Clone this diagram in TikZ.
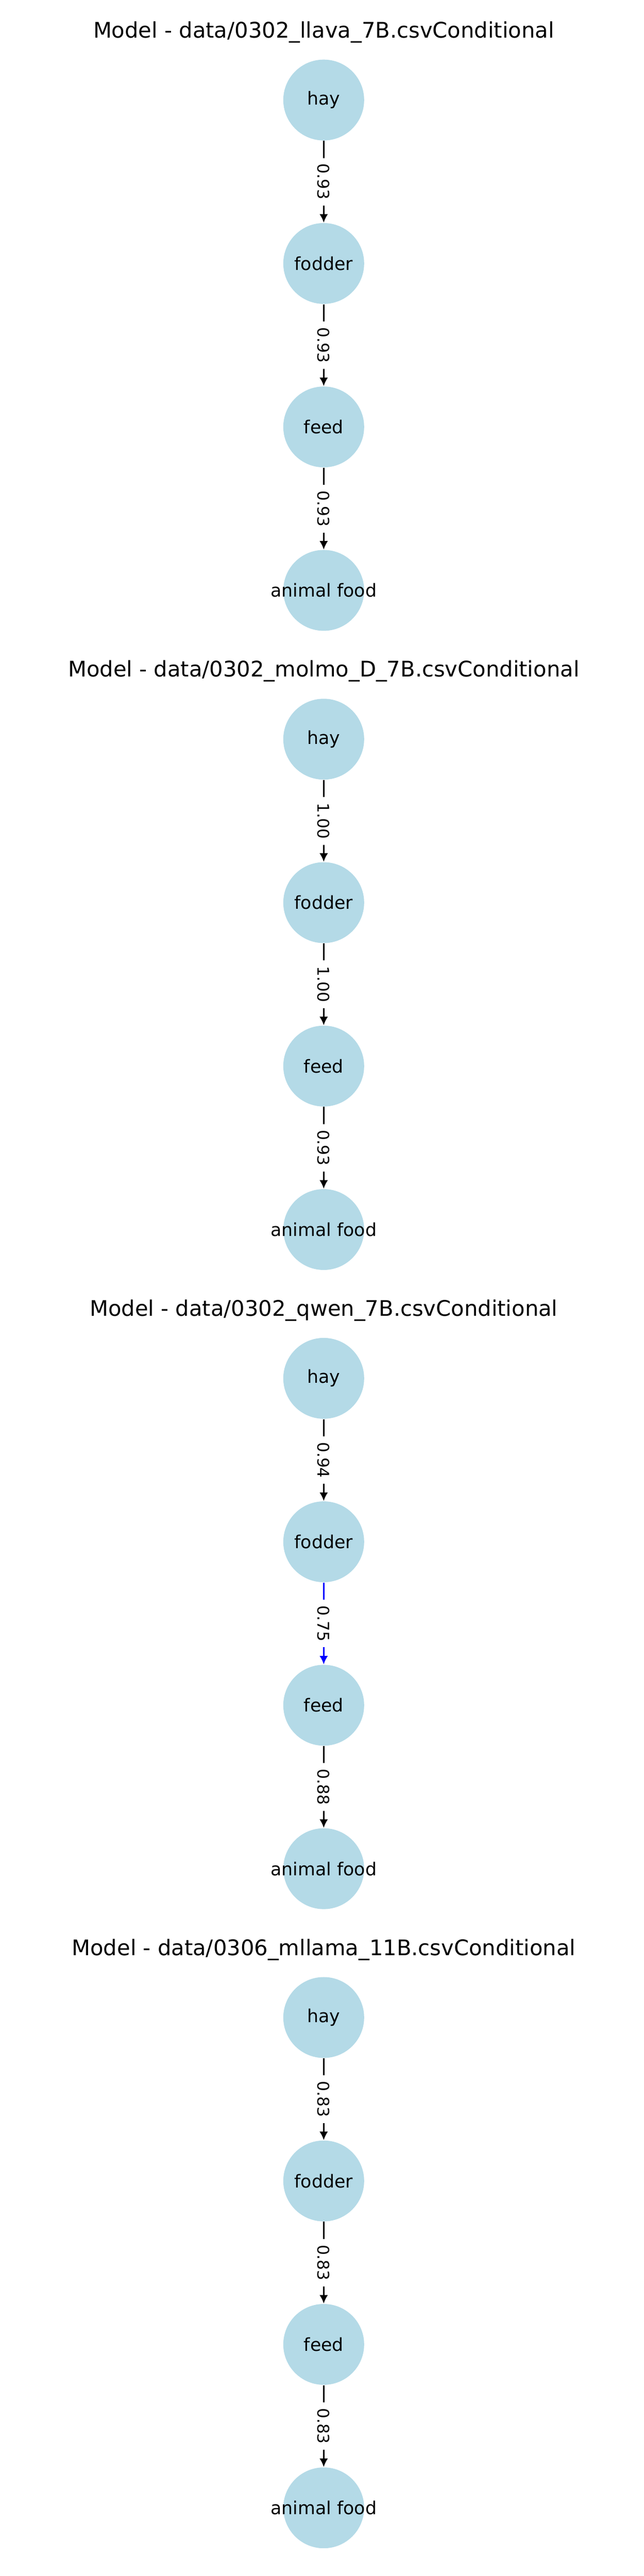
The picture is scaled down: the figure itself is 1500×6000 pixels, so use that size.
\documentclass[tikz,border=0pt]{standalone}
\usepackage{fontspec}
\setmainfont{DejaVu Sans}
\usetikzlibrary{arrows.meta}
\definecolor{nodeblue}{RGB}{180,218,231}
\definecolor{edgeblue}{RGB}{0,0,255}
\begin{document}
\begin{tikzpicture}[x=0.24pt,y=-0.24pt,
        term/.style={circle,fill=nodeblue,inner sep=0pt,minimum size=45.2pt,font=\fontsize{10}{12}\selectfont},
        heading/.style={anchor=base,font=\fontsize{12}{14}\selectfont},
        link/.style={line width=1pt,-{Latex[length=4.8pt,width=4.8pt]}},
        weight/.style={midway,fill=white,text=black,rotate=-90,inner sep=3.3pt,font=\fontsize{9}{11}\selectfont}]%
        \useasboundingbox (0,0) rectangle (1500,6000);
        % llava
        \node[heading] (t1) at (754,88) {Model - data/0302\_llava\_7B.csvConditional};
        \node[term] (hay1) at (754,233) {hay};
        \node[term] (fodder1) at (754,613.7) {fodder};
        \node[term] (feed1) at (754,994.4) {feed};
        \node[term] (food1) at (754,1375.1) {\makebox[0pt]{animal food}};
        \draw[link] (hay1) -- (fodder1) node[weight] {0.93};
        \draw[link] (fodder1) -- (feed1) node[weight] {0.93};
        \draw[link] (feed1) -- (food1) node[weight] {0.93};
        % molmo
        \node[heading] (t2) at (754,1576.7) {Model - data/0302\_molmo\_D\_7B.csvConditional};
        \node[term] (hay2) at (754,1721.7) {hay};
        \node[term] (fodder2) at (754,2102.4) {fodder};
        \node[term] (feed2) at (754,2483.1) {feed};
        \node[term] (food2) at (754,2863.8) {\makebox[0pt]{animal food}};
        \draw[link] (hay2) -- (fodder2) node[weight] {1.00};
        \draw[link] (fodder2) -- (feed2) node[weight] {1.00};
        \draw[link] (feed2) -- (food2) node[weight] {0.93};
        % qwen
        \node[heading] (t3) at (754,3065.4) {Model - data/0302\_qwen\_7B.csvConditional};
        \node[term] (hay3) at (754,3210.4) {hay};
        \node[term] (fodder3) at (754,3591.1) {fodder};
        \node[term] (feed3) at (754,3971.8) {feed};
        \node[term] (food3) at (754,4352.5) {\makebox[0pt]{animal food}};
        \draw[link] (hay3) -- (fodder3) node[weight] {0.94};
        \draw[link,edgeblue] (fodder3) -- (feed3) node[weight] {0.75};
        \draw[link] (feed3) -- (food3) node[weight] {0.88};
        % mllama
        \node[heading] (t4) at (754,4554.1) {Model - data/0306\_mllama\_11B.csvConditional};
        \node[term] (hay4) at (754,4699.1) {hay};
        \node[term] (fodder4) at (754,5079.8) {fodder};
        \node[term] (feed4) at (754,5460.5) {feed};
        \node[term] (food4) at (754,5841.2) {\makebox[0pt]{animal food}};
        \draw[link] (hay4) -- (fodder4) node[weight] {0.83};
        \draw[link] (fodder4) -- (feed4) node[weight] {0.83};
        \draw[link] (feed4) -- (food4) node[weight] {0.83};
    \end{tikzpicture}
\end{document}
